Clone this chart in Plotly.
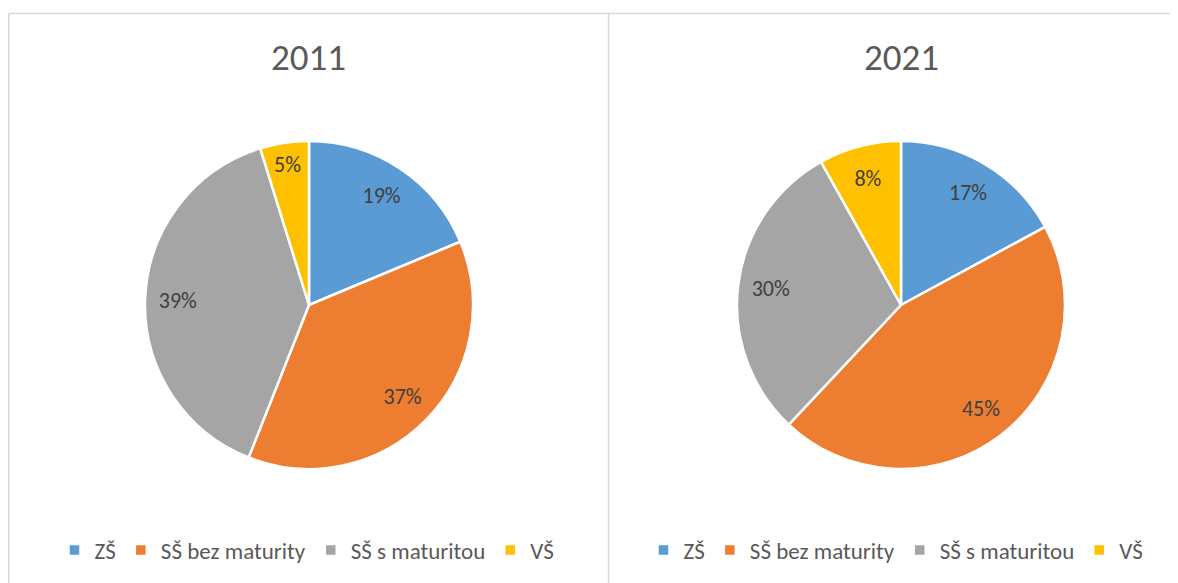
import plotly.graph_objects as go

categories = ["ZŠ", "SŠ bez maturity", "SŠ s maturitou", "VŠ"]
values_2011 = [18.7, 37.3, 39.2, 4.8]
values_2021 = [17.1, 44.9, 29.9, 8.1]
titles = ["2011", "2021"]
colors = ["#5B9BD5", "#ED7D31", "#A5A5A5", "#FFC000"]

# the page body adds an 8px margin, so the figure is a bit smaller and shifted
OFF = 8
W, H = 1178 - OFF, 583 - OFF
FONT = "Calibri, Carlito, Lato, sans-serif"

def px_x(v):
    return (v - OFF) / W

def px_y(v):
    return 1 - (v - OFF) / H

R = 164
centers = [309, 901]
cy = 305

fig = go.Figure()
for i, (vals, legend_name) in enumerate([(values_2011, "legend"), (values_2021, "legend2")]):
    cx = centers[i]
    dom = dict(x=[px_x(cx - R), px_x(cx + R)], y=[px_y(cy + R), px_y(cy - R)])
    # distinct label ids per pie so each pie gets its own legend entries
    labels = [c + "\u200b" * i for c in categories]
    fig.add_trace(go.Pie(
        labels=labels,
        values=vals,
        sort=False,
        direction="clockwise",
        rotation=0,
        marker=dict(colors=colors, line=dict(color="white", width=2.5)),
        textinfo="none",
        hoverinfo="label+percent",
        domain=dom,
        legend=legend_name,
        showlegend=True,
    ))
    # text-only ring so the percentage labels sit near the outer part of each slice
    fig.add_trace(go.Pie(
        labels=labels,
        values=vals,
        sort=False,
        direction="clockwise",
        rotation=0,
        hole=0.6,
        marker=dict(colors=["rgba(0,0,0,0)"] * len(vals), line=dict(width=0)),
        textinfo="percent",
        texttemplate="%{percent:.0%}",
        textposition="inside",
        insidetextorientation="horizontal",
        textfont=dict(family=FONT, size=22, color="#404040"),
        hoverinfo="skip",
        domain=dom,
        showlegend=False,
    ))

legend_common = dict(
    orientation="h",
    xanchor="center",
    yanchor="middle",
    y=px_y(550),
    font=dict(family=FONT, size=23, color="#595959"),
    itemwidth=30,
    bgcolor="rgba(0,0,0,0)",
    traceorder="normal",
)

annotations = []
for i, t in enumerate(titles):
    annotations.append(dict(
        text=t, x=px_x(centers[i]), y=px_y(58), xref="paper", yref="paper",
        xanchor="center", yanchor="middle", showarrow=False,
        font=dict(family=FONT, size=37, color="#595959"),
    ))

border = "#D9D9D9"
shapes = [
    dict(type="line", xref="paper", yref="paper", x0=px_x(8.75), x1=1.0, y0=px_y(13.5), y1=px_y(13.5),
         line=dict(color=border, width=1.5)),
    dict(type="line", xref="paper", yref="paper", x0=px_x(8.75), x1=px_x(8.75), y0=px_y(13.5), y1=0,
         line=dict(color=border, width=1.5)),
    dict(type="line", xref="paper", yref="paper", x0=px_x(608.5), x1=px_x(608.5), y0=px_y(13.5), y1=0,
         line=dict(color=border, width=1.5)),
]

fig.update_layout(
    width=W, height=H,
    margin=dict(l=0, r=0, t=0, b=0),
    paper_bgcolor="white",
    plot_bgcolor="white",
    legend=dict(legend_common, x=px_x(307)),
    legend2=dict(legend_common, x=px_x(896)),
    annotations=annotations,
    shapes=shapes,
)

fig.write_html("out.html")
